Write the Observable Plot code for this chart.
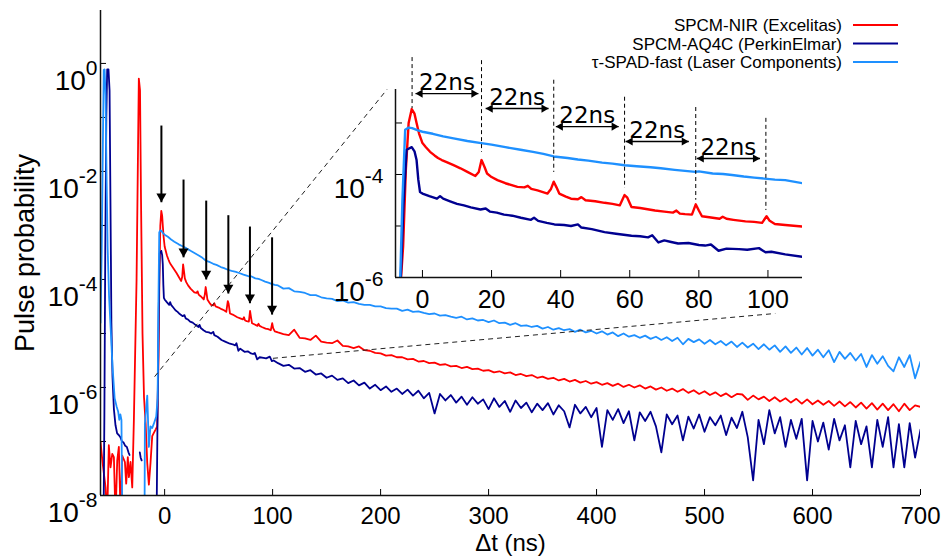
<!DOCTYPE html>
<html>
<head>
<meta charset="utf-8">
<script src="https://cdn.jsdelivr.net/npm/d3@7"></script>
<script src="https://cdn.jsdelivr.net/npm/@observablehq/plot@0.6"></script>
<style>
  body { margin: 0; background: #fff; }
  #wrap { position: relative; width: 949px; height: 556px; overflow: hidden; background: #fff;
          font-family: "Liberation Sans", Arial, sans-serif; }
  #wrap > svg { position: absolute; }
</style>
</head>
<body>
<div id="wrap"></div>
<script>
// ---------------- data ----------------
const seriesNames = ["SPCM-NIR (Excelitas)", "SPCM-AQ4C (PerkinElmar)", "τ-SPAD-fast (Laser Components)"];
const seriesColors = ["#ff0000", "#000090", "#1e90ff"];

const xTitle = "Δt (ns)";
const yTitle = "Pulse probability";

const mainXTicks = [0, 100, 200, 300, 400, 500, 600, 700];
const mainYTicks = [1, 1e-1, 1e-2, 1e-3, 1e-4, 1e-5, 1e-6, 1e-7, 1e-8];
const insetXTicks = [0, 20, 40, 60, 80, 100];
const insetYTicks = [1e-3, 1e-4, 1e-5, 1e-6];

// early part of each trace: [time in ns, log10(probability)]; null = no counts (gap)
const redHead = [
  [-59.4,-7.01],[-57.2,-7.44],[-54.7,-7.85],[-53.2,-8.4],[-51.7,-7.07],[-50.1,-7.48],[-48.5,-7.23],[-47,-7.29],
  [-45.5,-8.4],[-43.9,-7.35],[-42.4,-7.1],[-40.8,-8.4],[-39.3,-7.26],[-36.8,-7.38],[-35.6,-7.78],[-34.1,-7.29],
  [-33.1,-7.66],[-31.6,-7.38],[-30,-7.85],[-28.5,-6.61],[-26,-4.0],[-24.6,-1.5],[-23.9,-0.28],[-22.8,-0.5],
  [-21.9,-2.5],[-20.5,-5.0],[-19.1,-6.18],[-17.6,-6.67],[-16.1,-7.4],[-14.6,-7.8],[-13.1,-7.4],[-11.5,-6.9],
  [-10,-6.84],[-8.4,-6.78],[-6.9,-6.72],[-5.6,-5.4],[-4.8,-3.9],[-4,-3.0],[-3.1,-2.73],[-2.3,-2.82],[-1.7,-3.0],
  [-1,-3.2],[0,-3.39],[1,-3.47],[2.2,-3.56],[3.5,-3.63],[4.5,-3.68],[5.6,-3.72],[7,-3.76],[9,-3.82],[11,-3.88],
  [13,-3.95],[15.3,-4.03],[16.3,-3.95],[17.1,-3.72],[18,-3.86],[18.7,-3.98],[20,-4.05],[21.7,-4.11],[24,-4.17],
  [27.5,-4.24],[29.5,-4.25],[30.5,-4.22],[31.5,-4.28],[33.3,-4.31],[36.2,-4.37],[37.2,-4.28],[38,-4.14],
  [38.8,-4.25],[39.6,-4.37],[41.5,-4.43],[43,-4.47],[45,-4.48],[46,-4.44],[47.2,-4.5],[50,-4.52],[52.7,-4.55],
  [55,-4.57],[57.1,-4.6],[58,-4.47],[58.5,-4.4],[59.3,-4.45],[60.5,-4.63],[63,-4.65],[67.3,-4.7],[70,-4.72],
  [72.5,-4.74],[73.5,-4.7],[74.5,-4.76],[76,-4.77],[78,-4.78],[79.1,-4.58],[80,-4.7],[80.9,-4.81],[83,-4.83],
  [86,-4.86],[86.9,-4.82],[88,-4.86],[90,-4.88],[93.5,-4.91],[96,-4.92],[98.3,-4.94],[99.6,-4.81],[100.5,-4.9],
  [102,-4.96]
];
const navyHead = [
  [-56.5,-8.3],[-55.8,-6.5],[-55,-3.5],[-54,-1.0],[-53.2,-0.11],[-52,-0.11],[-51,-0.5],[-50.2,-2.5],[-49.3,-4.8],
  [-48.3,-5.8],[-47,-6.4],[-45.5,-6.7],[-44,-6.85],[-42.5,-6.88],[-41,-6.92],[-39.5,-7.0],[-38,-7.02],[-36.5,-7.08],
  [-35,-7.1],[-33.5,-7.2],[-32.5,-7.25],[-32,null],[-23,-7.2],[-22.2,-7.3],[-21.3,-7.35],[-21,null],[-7.4,-8.3],
  [-6.6,-6.6],[-5.5,-4.6],[-4.6,-3.52],[-3.1,-3.47],[-2.3,-3.55],[-1.7,-3.72],[-1.2,-4.1],[-0.7,-4.34],[0,-4.37],
  [2,-4.42],[4.2,-4.47],[5.1,-4.42],[6,-4.47],[8,-4.52],[10,-4.57],[12,-4.6],[14,-4.64],[16.8,-4.68],[18.3,-4.66],
  [19.5,-4.72],[21.5,-4.74],[23.6,-4.78],[26,-4.8],[28.5,-4.84],[31.4,-4.88],[32.3,-4.84],[33.5,-4.9],[36,-4.94],
  [38.2,-4.97],[41,-4.98],[43,-5.0],[45,-4.97],[46,-5.03],[49,-5.06],[52.7,-5.12],[56,-5.15],[60.5,-5.19],
  [63,-5.2],[65.3,-5.22],[66.5,-5.18],[68.3,-5.32],[70,-5.28],[72,-5.31],[74,-5.34],[77,-5.33],[80,-5.37],
  [81.8,-5.38],[83.5,-5.36],[85.7,-5.48],[88,-5.44],[91.6,-5.45],[94,-5.46],[97.4,-5.43],[99.3,-5.51],[101,-5.5]
];
const blueHead = [
  [-59.4,-4.8],[-58.3,-3.5],[-57.2,-1.5],[-56.4,-0.12],[-55.6,-0.11],[-54.7,-0.6],[-53.7,-2.2],[-52.8,-3.4],
  [-51.5,-4.3],[-50,-4.9],[-48.3,-5.6],[-46.3,-6.2],[-44.5,-6.35],[-43,-6.45],[-42,-6.6],[-41,-6.5],[-40,-6.6],
  [-39.2,-8.4],[-38.9,null],[-18.6,-8.4],[-18.3,-6.67],[-16.1,-6.15],[-14.6,-7.1],[-13.1,-6.72],[-11.5,-6.75],
  [-10,-6.67],[-7.8,-6.54],[-6.5,-6.2],[-5.8,-4.5],[-5,-3.13],[-4,-3.09],[-3,-3.1],[-1.5,-3.14],[0,-3.17],
  [3,-3.21],[6,-3.26],[9,-3.3],[13,-3.35],[17,-3.39],[20,-3.42],[24,-3.47],[28.4,-3.52],[32,-3.56],[35,-3.6],
  [38,-3.65],[42,-3.68],[45,-3.71],[48,-3.73],[52,-3.77],[55,-3.79],[58.5,-3.82],[62,-3.84],[66,-3.86],
  [69,-3.88],[73,-3.91],[76,-3.93],[79,-3.95],[80,-3.94],[84,-3.98],[87,-3.99],[89.6,-4.01],[93,-4.04],
  [96,-4.06],[99,-4.08],[102,-4.1]
];

// tail of each trace, sampled every 5 ns: time list and log10(probability)
const tailT = [
  105,110,115,120,125,130,135,140,145,150,155,160,165,170,175,180,185,190,195,200,
  205,210,215,220,225,230,235,240,245,250,255,260,265,270,275,280,285,290,295,300,
  305,310,315,320,325,330,335,340,345,350,355,360,365,370,375,380,385,390,395,400,
  405,410,415,420,425,430,435,440,445,450,455,460,465,470,475,480,485,490,495,500,
  505,510,515,520,525,530,535,540,545,550,555,560,565,570,575,580,585,590,595,600,
  605,610,615,620,625,630,635,640,645,650,655,660,665,670,675,680,685,690,695,700
];
const redTail = [
  -4.98,-5.01,-5.03,-4.93,-5.08,-5.09,-5.12,-5.04,-5.15,-5.17,-5.18,-5.13,-5.23,-5.24,-5.27,-5.24,-5.31,-5.32,-5.36,-5.37,
  -5.41,-5.40,-5.44,-5.44,-5.48,-5.47,-5.52,-5.51,-5.55,-5.54,-5.58,-5.57,-5.61,-5.60,-5.64,-5.62,-5.66,-5.65,-5.69,-5.68,
  -5.72,-5.70,-5.74,-5.72,-5.77,-5.75,-5.79,-5.77,-5.82,-5.80,-5.84,-5.82,-5.87,-5.84,-5.89,-5.86,-5.91,-5.88,-5.93,-5.90,
  -5.95,-5.92,-5.97,-5.93,-5.99,-5.95,-6.00,-5.96,-6.02,-5.98,-6.04,-6.00,-6.06,-6.02,-6.08,-6.03,-6.10,-6.05,-6.12,-6.07,
  -6.14,-6.09,-6.16,-6.11,-6.18,-6.12,-6.13,-6.23,-6.15,-6.22,-6.17,-6.25,-6.18,-6.26,-6.20,-6.28,-6.21,-6.30,-6.22,-6.31,
  -6.24,-6.32,-6.25,-6.34,-6.26,-6.35,-6.27,-6.37,-6.28,-6.39,-6.29,-6.41,-6.30,-6.42,-6.31,-6.44,-6.30,-6.42,-6.33,-6.36
];
const navyTail = [
  -5.55,-5.60,-5.58,-5.65,-5.64,-5.71,-5.68,-5.76,-5.74,-5.82,-5.78,-5.86,-5.83,-5.92,-5.87,-5.96,-5.91,-6.02,-5.95,-6.05,
  -5.98,-6.08,-6.02,-6.12,-6.04,-6.15,-6.06,-6.20,-6.10,-6.48,-6.12,-6.24,-6.14,-6.28,-6.17,-6.32,-6.18,-6.30,-6.22,-6.40,
  -6.20,-6.36,-6.25,-6.45,-6.24,-6.38,-6.28,-6.46,-6.30,-6.42,-6.29,-6.50,-6.33,-6.44,-6.74,-6.32,-6.48,-6.36,-6.55,-6.38,
  -7.10,-6.42,-6.60,-6.40,-6.66,-6.44,-6.98,-6.46,-6.62,-6.45,-6.72,-7.20,-6.50,-6.68,-6.52,-6.98,-6.54,-6.76,-6.50,-6.82,
  -6.55,-6.70,-6.52,-6.88,-6.56,-6.75,-6.45,-6.92,-7.72,-6.60,-7.05,-6.42,-6.85,-6.55,-7.10,-6.60,-6.95,-6.58,-7.72,-6.62,
  -7.00,-6.65,-7.15,-6.58,-6.98,-6.70,-7.48,-6.62,-7.05,-6.72,-7.48,-6.60,-7.10,-6.55,-7.48,-6.68,-7.48,-6.66,-7.30,-6.78
];
const blueTail = [
  -4.11,-4.17,-4.16,-4.22,-4.23,-4.25,-4.29,-4.29,-4.33,-4.35,-4.36,-4.40,-4.39,-4.43,-4.42,-4.45,-4.47,-4.47,-4.50,-4.50,
  -4.53,-4.54,-4.54,-4.58,-4.56,-4.60,-4.59,-4.62,-4.64,-4.63,-4.67,-4.66,-4.69,-4.71,-4.69,-4.74,-4.72,-4.76,-4.75,-4.79,
  -4.76,-4.81,-4.80,-4.84,-4.81,-4.86,-4.85,-4.88,-4.86,-4.91,-4.88,-4.93,-4.90,-4.94,-4.92,-4.97,-4.93,-4.98,-4.95,-5.00,
  -4.96,-5.02,-4.98,-5.05,-5.00,-5.06,-5.03,-5.08,-5.04,-5.10,-5.06,-5.12,-5.07,-5.14,-5.08,-5.20,-5.10,-5.16,-5.11,-5.19,
  -5.12,-5.20,-5.14,-5.22,-5.15,-5.25,-5.17,-5.26,-5.19,-5.29,-5.20,-5.30,-5.22,-5.34,-5.24,-5.36,-5.26,-5.39,-5.27,-5.41,
  -5.30,-5.44,-5.31,-5.53,-5.34,-5.47,-5.36,-5.50,-5.38,-5.62,-5.40,-5.56,-5.42,-5.60,-5.70,-5.44,-5.62,-5.40,-5.83,-5.52
];

// afterpulse arrows in the main panel: time, log10 of arrow top and tip
const arrowTimes = [-3, 17.5, 38.5, 59, 79, 99.5];
const arrowTopLog = [-1.15, -2.15, -2.54, -2.81, -3.02, -3.22];
const arrowTipLog = [-2.57, -3.59, -4.0, -4.26, -4.44, -4.65];

// dashed zoom guides (main-panel data units): [time, log10 p]
const guideFrom = [[-9.3, -5.8], [100.3, -5.46]];
const guideTo = [[206, -0.48], [565.5, -4.63]];

// inset annotations
const peakTimes = [-3.0, 17.1, 38.0, 58.5, 79.1, 99.4];
const peakGuideTopLog = [-1.73, -1.79, -2.17, -2.5, -2.7, -2.91];
const peakGuideBottomLog = [-2.72, -3.57, -3.96, -4.27, -4.5, -4.7];
const spanStart = [-2.0, 18.3, 38.6, 58.8, 79.4];
const spanEnd = [16.2, 36.5, 56.8, 77.1, 97.7];
const spanLevelLog = [-2.43, -2.72, -3.07, -3.36, -3.69];
const spanText = "22ns";

// ---------------- build ----------------
const pw = v => (v == null ? NaN : Math.pow(10, v));
const toRows = (head, tail) =>
  head.map(([t, e]) => ({t, p: pw(e)})).concat(tailT.map((t, i) => ({t, p: pw(tail[i])})));
const traces = [
  {rows: toRows(redHead, redTail), color: seriesColors[0]},
  {rows: toRows(navyHead, navyTail), color: seriesColors[1]},
  {rows: toRows(blueHead, blueTail), color: seriesColors[2]}
];

const mainXDomain = [-59.4, 700];
const mainYDomain = [1e-8, Math.pow(10, 0.98)];
const insetXDomain = [-7.8, 110];
const insetYDomain = [1e-6, Math.pow(10, -2.35)];

const powFmt = d => {
  const k = Math.round(Math.log10(d));
  return k % 2 === 0 ? "10^" + k : "";
};

const font = "'Liberation Sans', Arial, sans-serif";
const wrap = document.getElementById("wrap");

const arrows = arrowTimes.map((t, i) => ({t, top: pw(arrowTopLog[i]), tip: pw(arrowTipLog[i])}));
const guides = guideFrom.map((f, i) => ({t1: f[0], p1: pw(f[1]), t2: guideTo[i][0], p2: pw(guideTo[i][1])}));

const mainPlot = Plot.plot({
  width: 949, height: 556,
  marginLeft: 100, marginRight: 29, marginTop: 10, marginBottom: 61,
  style: {fontFamily: font, background: "transparent", overflow: "visible", color: "#000"},
  x: {domain: mainXDomain},
  y: {type: "log", domain: mainYDomain},
  marks: [
    Plot.axisX({ticks: mainXTicks, tickSize: -6, tickPadding: 17, fontSize: 24, label: null, tickFormat: d => String(d)}),
    Plot.axisY({ticks: mainYTicks, tickSize: -6, tickPadding: 9, fontSize: 28, label: null, tickFormat: powFmt}),
    ...traces.map(s => Plot.line(s.rows, {x: "t", y: "p", stroke: s.color, strokeWidth: 1.8, clip: true})),
    Plot.link(guides, {x1: "t1", y1: "p1", x2: "t2", y2: "p2", stroke: "#222", strokeWidth: 1, strokeDasharray: "5,4"}),
    Plot.link(arrows, {x1: "t", x2: "t", y1: "top", y2: "tip", stroke: "#000", strokeWidth: 2}),
    Plot.dot(arrows, {x: "t", y: "tip", symbol: "triangle2", rotate: 180, r: 4.8, dy: -5.8, fill: "#000", stroke: "none"}),
    Plot.ruleX([mainXDomain[0]], {stroke: "#111", strokeWidth: 1.5}),
    Plot.ruleY([mainYDomain[0]], {stroke: "#111", strokeWidth: 1.5}),
    Plot.text([xTitle], {text: d => d, frameAnchor: "bottom", textAnchor: "middle", lineAnchor: "bottom", dy: 55, fontSize: 24}),
    Plot.text([yTitle], {text: d => d, frameAnchor: "left", textAnchor: "middle", lineAnchor: "bottom", rotate: -90, dx: -67, fontSize: 27})
  ]
});
mainPlot.style.left = "0px";
mainPlot.style.top = "0px";
wrap.appendChild(mainPlot);

const peakGuides = peakTimes.map((t, i) => ({t, y1: pw(peakGuideTopLog[i]), y2: pw(peakGuideBottomLog[i])}));
const spans = spanStart.map((s, i) => ({x1: s, x2: spanEnd[i], y: pw(spanLevelLog[i]), label: spanText}));

const insetPlot = Plot.plot({
  width: 485, height: 270,
  marginLeft: 70, marginRight: 8, marginTop: 44, marginBottom: 38,
  style: {fontFamily: font, background: "transparent", overflow: "visible", color: "#000"},
  x: {domain: insetXDomain},
  y: {type: "log", domain: insetYDomain},
  marks: [
    Plot.axisX({ticks: insetXTicks, tickSize: -7, tickPadding: 20, fontSize: 25, label: null, tickFormat: d => String(d)}),
    Plot.axisY({ticks: insetYTicks, tickSize: -7, tickPadding: 19, fontSize: 28, label: null, tickFormat: powFmt}),
    ...traces.map(s => Plot.line(s.rows, {x: "t", y: "p", stroke: s.color, strokeWidth: 2.4, clip: true})),
    Plot.ruleX(peakGuides, {x: "t", y1: "y1", y2: "y2", stroke: "#000", strokeWidth: 1, strokeDasharray: "4,3"}),
    Plot.link(spans, {x1: "x1", x2: "x2", y1: "y", y2: "y", stroke: "#000", strokeWidth: 1.4}),
    Plot.dot(spans, {x: "x1", y: "y", symbol: "triangle2", rotate: -90, r: 3.9, dx: 4.7, fill: "#000", stroke: "none"}),
    Plot.dot(spans, {x: "x2", y: "y", symbol: "triangle2", rotate: 90, r: 3.9, dx: -4.7, fill: "#000", stroke: "none"}),
    Plot.text(spans, {x: d => (d.x1 + d.x2) / 2, y: "y", text: "label", lineAnchor: "bottom", dy: -4, fontSize: 23, fontFamily: "'DejaVu Sans', sans-serif"}),
    Plot.ruleX([insetXDomain[0]], {stroke: "#111", strokeWidth: 1.5}),
    Plot.ruleY([insetYDomain[0]], {stroke: "#111", strokeWidth: 1.5})
  ]
});
insetPlot.style.left = "325px";
insetPlot.style.top = "45px";
wrap.appendChild(insetPlot);

// superscript exponents on the log tick labels
function supify(svg, baseSize, supSize, baseDy, supDy) {
  const ns = "http://www.w3.org/2000/svg";
  svg.querySelectorAll('g[aria-label="y-axis tick label"] text').forEach(t => {
    const s = t.textContent;
    t.removeAttribute("dy");
    if (!s || s.indexOf("^") < 0) { t.textContent = ""; return; }
    const [b, e] = s.split("^");
    t.textContent = "";
    const t1 = document.createElementNS(ns, "tspan");
    t1.textContent = b; t1.setAttribute("dy", baseDy); t1.setAttribute("font-size", baseSize);
    const t2 = document.createElementNS(ns, "tspan");
    t2.textContent = e; t2.setAttribute("dy", supDy); t2.setAttribute("font-size", supSize);
    t.appendChild(t1); t.appendChild(t2);
  });
}
supify(mainPlot, 28, 21, 18, -15);
supify(insetPlot, 28, 21, 15, -15);

// legend (top right)
const legend = d3.create("svg")
  .attr("width", 949).attr("height", 90)
  .style("left", "0px").style("top", "0px")
  .style("font-family", font);
const legendBaselines = [31, 49.5, 68];
seriesNames.forEach((name, i) => {
  const yb = legendBaselines[i];
  legend.append("text").attr("x", 842).attr("y", yb).attr("text-anchor", "end")
    .attr("font-size", 17).attr("fill", "#000").text(name);
  legend.append("line").attr("x1", 853).attr("x2", 898).attr("y1", yb - 6).attr("y2", yb - 6)
    .attr("stroke", seriesColors[i]).attr("stroke-width", 2);
});
wrap.appendChild(legend.node());
</script>
</body>
</html>
